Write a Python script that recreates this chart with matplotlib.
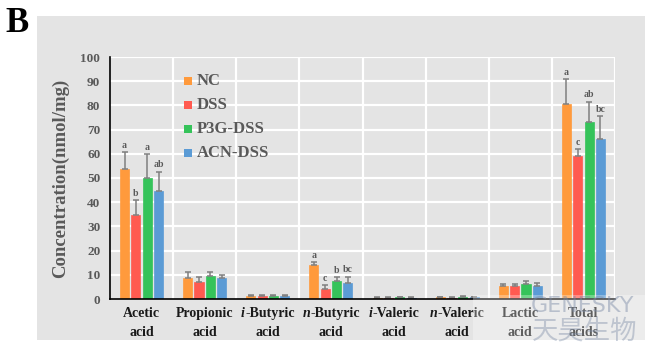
import matplotlib
matplotlib.use("Agg")
import matplotlib.pyplot as plt
import numpy as np
from matplotlib.offsetbox import TextArea, HPacker, VPacker, AnnotationBbox
from matplotlib.patches import Rectangle

# ---- data ----
categories = [("", "Acetic"), ("", "Propionic"), ("i", "-Butyric"), ("n", "-Butyric"),
              ("i", "-Valeric"), ("n", "-Valeric"), ("", "Lactic"), ("", "Total")]
second_line = ["acid", "acid", "acid", "acid", "acid", "acid", "acid", "acids"]
groups = ["NC", "DSS", "P3G-DSS", "ACN-DSS"]
colors = ["#FF9A3C", "#FF5A50", "#35C35A", "#5B9BD5"]

NC = [53.6, 8.8, 1.2, 13.9, 0.6, 0.7, 5.4, 80.6]
DSS = [34.8, 7.0, 1.3, 4.3, 0.5, 0.6, 5.2, 59.2]
P3G = [49.9, 9.5, 1.2, 7.4, 0.7, 0.9, 6.1, 73.3]
ACN = [44.6, 8.5, 1.2, 6.6, 0.6, 0.7, 5.5, 66.1]
values = [NC, DSS, P3G, ACN]

NC_err = [7.0, 2.4, 0.4, 1.3, 0.3, 0.3, 0.8, 10.2]
DSS_err = [6.1, 2.1, 0.4, 1.5, 0.3, 0.3, 0.8, 2.8]
P3G_err = [9.9, 1.6, 0.3, 1.6, 0.3, 0.3, 1.3, 8.2]
ACN_err = [8.0, 1.5, 0.3, 2.6, 0.3, 0.3, 1.0, 9.5]
errors = [NC_err, DSS_err, P3G_err, ACN_err]

sig_labels = {
    0: ["a", "b", "a", "ab"],
    3: ["a", "c", "b", "bc"],
    7: ["a", "c", "ab", "bc"],
}

yticks = [0, 10, 20, 30, 40, 50, 60, 70, 80, 90, 100]

# ---- figure ----
W, H = 654, 352
fig = plt.figure(figsize=(W / 100, H / 100), dpi=100)
fig.patch.set_facecolor("white")
panel_col = "#E4E4E4"
fig.patches.append(Rectangle((37 / W, 1 - 340 / H), (645 - 37) / W, (340 - 16) / H,
                             transform=fig.transFigure, facecolor=panel_col,
                             edgecolor="none", zorder=-10))

ax = fig.add_axes([110 / W, 1 - 299 / H, (615 - 110) / W, (299 - 57) / H])
ax.set_zorder(1)
ax.set_facecolor(panel_col)
ax.set_xlim(0, 8)
ax.set_ylim(0, 100)

serif = "Liberation Serif"
gray = "#595959"

# grid
for y in yticks[1:]:
    ax.axhline(y, color="white", lw=1.6, zorder=1)
for x in range(1, 9):
    ax.axvline(x, color="white", lw=1.6, zorder=1)

width = 0.143
step = 0.18
x0 = np.arange(len(categories)) + 0.5
for k in range(4):
    xs = x0 + (k - 1.5) * step
    ax.bar(xs, values[k], width=width, color=colors[k], zorder=3,
           edgecolor=colors[k], linewidth=0.5)
    ax.errorbar(xs, values[k], yerr=[np.zeros(len(xs)), errors[k]], fmt="none",
                ecolor="#7F7F7F", elinewidth=1.1, capsize=2.3, capthick=1.1, zorder=4)
    for ci, labs in sig_labels.items():
        ax.text(xs[ci], values[k][ci] + errors[k][ci] + 1.0, labs[k],
                ha="center", va="bottom", fontsize=7, fontweight="bold",
                family=serif, color=gray, zorder=5)

for s in ["top", "right"]:
    ax.spines[s].set_visible(False)
ax.spines["left"].set_color("black")
ax.spines["bottom"].set_color("black")
ax.spines["left"].set_linewidth(1.2)
ax.spines["bottom"].set_linewidth(1.2)
ax.spines["left"].set_zorder(6)
ax.spines["bottom"].set_zorder(6)

ax.set_yticks(yticks)
ax.set_yticklabels([str(t) for t in yticks], fontsize=9.5, fontweight="bold",
                   family=serif, color=gray)
ax.tick_params(axis="y", length=0, pad=7)
ax.set_xticks([])

ax.set_ylabel("Concentration(nmol/mg)", fontsize=13.5, fontweight="bold",
              family=serif, color=gray, labelpad=8)

# category labels
for i, (pre, main) in enumerate(categories):
    parts = []
    if pre:
        parts.append(TextArea(pre, textprops=dict(fontsize=10, fontweight="bold",
                                                  fontstyle="italic", family=serif,
                                                  color="#1a1a1a")))
    parts.append(TextArea(main, textprops=dict(fontsize=10, fontweight="bold",
                                               family=serif, color="#1a1a1a")))
    line1 = HPacker(children=parts, pad=0, sep=0, align="baseline")
    line2 = TextArea(second_line[i], textprops=dict(fontsize=10, fontweight="bold",
                                                    family=serif, color="#1a1a1a"))
    box = VPacker(children=[line1, line2], pad=0, sep=4, align="center")
    ab = AnnotationBbox(box, (x0[i], 0), xycoords=("data", "axes fraction"),
                        xybox=(0, -6), boxcoords="offset points",
                        box_alignment=(0.5, 1), frameon=False, annotation_clip=False)
    ax.add_artist(ab)

# legend (manual, inside axes)
leg_y = [81, 105, 129, 153]
for k, g in enumerate(groups):
    yy = 1 - leg_y[k] / H
    fig.patches.append(Rectangle((184.5 / W, yy - 4 / H), 8 / W, 8 / H,
                                 transform=fig.transFigure, facecolor=colors[k],
                                 edgecolor="none", zorder=10))
    fig.text(197 / W, yy, g, fontsize=12, fontweight="bold", family=serif,
             color=gray, va="center", ha="left", zorder=10)

# panel letter
fig.text(5 / W, 1 - 7 / H, "B", fontsize=25, fontweight="bold", family=serif,
         color="black", va="top", ha="left")

# watermark
fig.patches.append(Rectangle((473 / W, 1 - 345 / H), (645 - 473) / W, (345 - 295) / H,
                             transform=fig.transFigure, facecolor="white",
                             edgecolor="none", alpha=0.3, zorder=20))
fig.text(583 / W, 1 - 306 / H, "GENESKY", fontsize=16, family="DejaVu Sans",
         color="#7a8aa5", alpha=0.45, ha="center", va="center", zorder=21)
fig.text(585 / W, 1 - 331 / H, "天昊生物", fontsize=19,
         family=["Noto Sans CJK SC", "DejaVu Sans"],
         color="#7a8aa5", alpha=0.4, ha="center", va="center", zorder=21)

fig.savefig("out.png", dpi=100)
